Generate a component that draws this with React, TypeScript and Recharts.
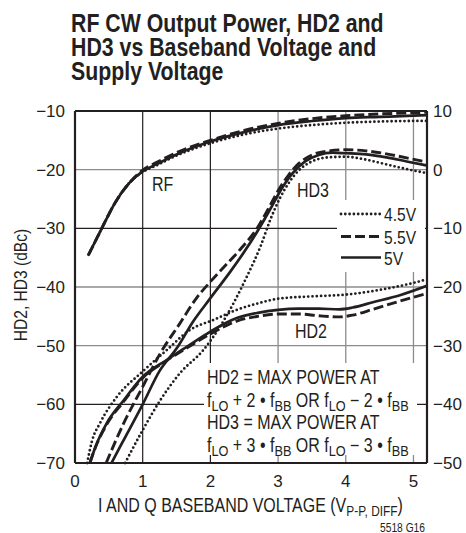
import React from "react";
import { LineChart, Line, XAxis, YAxis, ReferenceLine } from "recharts";

const INK = "#231f20";
const GRID_LIGHT = "#8c8c8c";
const SANS = '"Liberation Sans", Arial, sans-serif';
const NARROW_X = 0.82; // Arial squeezed to a condensed face

// RF output power (dBm, right axis) vs baseband voltage
const rfVolts = [0.2, 0.3, 0.4, 0.5, 0.6, 0.8, 1.0, 1.2, 1.5, 2, 2.5, 3, 3.5, 4, 4.5, 5, 5.2];
const rf5V = [-14.5, -12.2, -9.9, -7.6, -5.5, -2.3, -0.3, 0.9, 2.6, 4.8, 6.4, 7.6, 8.3, 8.8, 9.0, 9.2, 9.3];
const rf55V = [-14.5, -12.2, -9.9, -7.6, -5.5, -2.3, -0.1, 1.2, 2.9, 5.0, 6.7, 7.9, 8.7, 9.2, 9.5, 9.7, 9.8];
const rf45V = [-14.5, -12.2, -9.9, -7.6, -5.5, -2.3, -0.4, 0.7, 2.4, 4.5, 6.0, 7.0, 7.6, 8.0, 8.2, 8.3, 8.3];

// HD3 (dBc, left axis)
const hd3Volts5V = [0.54, 0.7, 1.0, 1.25, 1.5, 1.75, 2.0, 2.3, 2.5, 2.7, 2.9, 3.05, 3.2, 3.4, 3.6, 3.8, 4.0, 4.3, 4.6, 4.9, 5.2];
const hd3_5V = [-70, -66.5, -60, -54.3, -50.5, -45.8, -41.9, -37.3, -34.0, -30.4, -26.4, -23.3, -20.8, -18.6, -17.5, -17.1, -17.2, -17.4, -17.9, -18.6, -19.3];
const hd3Volts55V = [0.46, 0.72, 1.0, 1.26, 1.55, 1.8, 2.0, 2.2, 2.44, 2.69, 2.84, 3.0, 3.15, 3.3, 3.5, 3.75, 4.0, 4.3, 4.6, 4.9, 5.2];
const hd3_55V = [-70, -63.2, -57, -51.3, -46.2, -41.8, -39.1, -36.6, -33.6, -30.0, -27.0, -23.6, -21.0, -19.0, -17.5, -16.8, -16.6, -16.8, -17.3, -18.0, -18.7];
const hd3Volts45V = [0.74, 1.0, 1.26, 1.55, 1.9, 2.14, 2.34, 2.54, 2.74, 2.89, 3.03, 3.18, 3.3, 3.5, 3.75, 4.0, 4.3, 4.6, 4.9, 5.2];
const hd3_45V = [-70, -64.4, -59.3, -54.7, -50.7, -46.8, -42.8, -38.2, -33.1, -28.4, -24.8, -21.9, -20.2, -18.6, -17.9, -17.8, -18.3, -19.1, -19.9, -20.6];

// HD2 (dBc, left axis)
const hd2Volts = [0.22, 0.3, 0.47, 0.72, 1.0, 1.36, 1.65, 2.0, 2.39, 2.7, 3.0, 3.3, 3.6, 3.9, 4.1, 4.4, 4.8, 5.2];
const hd2_5V = [-70, -67.3, -63.2, -59.3, -55.3, -52.4, -50.2, -47.6, -45.3, -44.4, -43.9, -43.7, -43.7, -43.8, -43.5, -42.6, -41.4, -39.8];
const hd2_55V = [-70, -67.4, -63.4, -59.5, -55.5, -52.5, -50.4, -48.0, -45.8, -45.0, -44.6, -44.6, -44.9, -45.1, -44.8, -43.8, -42.4, -41.1];
const hd2Volts45V = [0.18, 0.25, 0.37, 0.62, 1.0, 1.36, 1.7, 2.05, 2.39, 2.7, 3.0, 3.5, 4.0, 4.5, 5.0, 5.2];
const hd2_45V = [-70, -66.3, -63.2, -58.7, -54.4, -50.7, -47.3, -45.6, -43.9, -42.8, -42.0, -41.6, -41.3, -40.5, -39.3, -38.7];

const xTicks = [0, 1, 2, 3, 4, 5];
const leftTicks = [-70, -60, -50, -40, -30, -20, -10];
const rightTicks = [-50, -40, -30, -20, -10, 0, 10];
const darkGridX = [1, 2];
const lightGridX = [3, 4, 5];
const darkGridY = [-30, -60];
const lightGridY = [-20, -40, -50];

const titleLines = ["RF CW Output Power, HD2 and", "HD3 vs Baseband Voltage and", "Supply Voltage"];
const legendLabels = ["4.5V", "5.5V", "5V"];
// [text, isSubscript]
const noteLines: [string, boolean][][] = [
  [["HD2 = MAX POWER AT", false]],
  [["f", false], ["LO", true], [" + 2 \u2022 f", false], ["BB", true], [" OR f", false], ["LO", true], [" \u2212 2 \u2022 f", false], ["BB", true]],
  [["HD3 = MAX POWER AT", false]],
  [["f", false], ["LO", true], [" + 3 \u2022 f", false], ["BB", true], [" OR f", false], ["LO", true], [" \u2212 3 \u2022 f", false], ["BB", true]],
];
const xTitle: [string, boolean][] = [["I AND Q BASEBAND VOLTAGE (V", false], ["P-P, DIFF", true], [")", false]];

const zip = (xs: number[], ys: number[]) => xs.map((v, i) => ({ v, y: ys[i] }));
const fmt = (n: number) => (n < 0 ? `\u2212${-n}` : `${n}`);

const solid = { stroke: INK, strokeWidth: 2.7 };
const dashed = { stroke: INK, strokeWidth: 2.9, strokeDasharray: "10 4" };
const dotted = { stroke: INK, strokeWidth: 2.8, strokeDasharray: "0 4.3", strokeLinecap: "round" as const };

const tickStyle = { fill: INK, fontSize: 17, fontFamily: SANS };

// condensed text: Arial scaled horizontally
function T({
  x,
  y,
  size,
  rotate = 0,
  anchor = "start",
  bold = false,
  children,
}: {
  x: number;
  y: number;
  size: number;
  rotate?: number;
  anchor?: "start" | "middle" | "end";
  bold?: boolean;
  children: React.ReactNode;
}) {
  return (
    <text
      transform={`translate(${x},${y}) rotate(${rotate}) scale(${NARROW_X},1)`}
      fontSize={size}
      textAnchor={anchor}
      fontWeight={bold ? "bold" : "normal"}
    >
      {children}
    </text>
  );
}

function runs(parts: [string, boolean][], subSize: number, shift: number) {
  let prevSub = false;
  return parts.map(([s, sub], i) => {
    const dy = sub && !prevSub ? shift : !sub && prevSub ? -shift : 0;
    prevSub = sub;
    return (
      <tspan key={i} dy={dy} fontSize={sub ? subSize : undefined}>
        {s}
      </tspan>
    );
  });
}

export default function App() {
  const lines = [
    { data: zip(rfVolts, rf45V), axis: "right", style: dotted },
    { data: zip(rfVolts, rf55V), axis: "right", style: dashed },
    { data: zip(rfVolts, rf5V), axis: "right", style: solid },
    { data: zip(hd3Volts45V, hd3_45V), axis: "left", style: dotted },
    { data: zip(hd3Volts55V, hd3_55V), axis: "left", style: dashed },
    { data: zip(hd3Volts5V, hd3_5V), axis: "left", style: solid },
    { data: zip(hd2Volts45V, hd2_45V), axis: "left", style: dotted },
    { data: zip(hd2Volts, hd2_55V), axis: "left", style: dashed },
    { data: zip(hd2Volts, hd2_5V), axis: "left", style: solid },
  ];
  const legendStyles = [dotted, dashed, solid];
  const legendY = [214, 236.5, 257.5];

  return (
    <div style={{ position: "absolute", left: 0, top: 0, width: 466, height: 533, background: "#fff" }}>
      <LineChart width={466} height={533} margin={{ top: 111, right: 0, bottom: 40, left: 0 }}>
        <XAxis
          dataKey="v"
          type="number"
          domain={[0, 5.2]}
          ticks={xTicks}
          interval={0}
          allowDataOverflow
          height={30}
          tickLine={false}
          axisLine={false}
          tickSize={0}
          tickMargin={12}
          tick={tickStyle}
        />
        <YAxis
          yAxisId="left"
          domain={[-70, -10]}
          ticks={leftTicks}
          interval={0}
          width={75}
          tickLine={false}
          axisLine={false}
          tickSize={0}
          tickMargin={10}
          tick={tickStyle}
          tickFormatter={fmt}
        />
        <YAxis
          yAxisId="right"
          orientation="right"
          domain={[-50, 10]}
          ticks={rightTicks}
          interval={0}
          width={39}
          tickLine={false}
          axisLine={false}
          tickSize={0}
          tickMargin={6}
          tick={tickStyle}
          tickFormatter={fmt}
        />

        {lightGridX.map((x) => (
          <ReferenceLine key={"lx" + x} yAxisId="left" x={x} stroke={GRID_LIGHT} strokeWidth={1.3} />
        ))}
        {lightGridY.map((y) => (
          <ReferenceLine key={"ly" + y} yAxisId="left" y={y} stroke={GRID_LIGHT} strokeWidth={1.3} />
        ))}
        {darkGridX.map((x) => (
          <ReferenceLine key={"dx" + x} yAxisId="left" x={x} stroke={INK} strokeWidth={1.2} />
        ))}
        {darkGridY.map((y) => (
          <ReferenceLine key={"dy" + y} yAxisId="left" y={y} stroke={INK} strokeWidth={1.2} />
        ))}

        {lines.map((l, i) => (
          <Line
            key={i}
            yAxisId={l.axis}
            data={l.data}
            dataKey="y"
            type="monotone"
            dot={false}
            activeDot={false}
            isAnimationActive={false}
            {...l.style}
          />
        ))}

        {/* plot frame */}
        <ReferenceLine yAxisId="left" x={0} stroke={INK} strokeWidth={2.2} />
        <ReferenceLine yAxisId="left" x={5.2} stroke={INK} strokeWidth={2.2} />
        <ReferenceLine yAxisId="left" y={-10} stroke={INK} strokeWidth={2.2} />
        <ReferenceLine yAxisId="left" y={-70} stroke={INK} strokeWidth={2.2} />
      </LineChart>

      <svg
        width={466}
        height={533}
        style={{ position: "absolute", left: 0, top: 0, pointerEvents: "none" }}
        fontFamily={SANS}
        fill={INK}
      >
        {titleLines.map((t, i) => (
          <T key={t} x={71} y={32 + i * 24} size={26} bold>
            {t}
          </T>
        ))}

        <T x={152} y={191} size={19.5}>RF</T>
        <T x={297} y={196.5} size={19.5}>HD3</T>
        <T x={295} y={338} size={19.5}>HD2</T>

        {/* legend */}
        <rect x={337} y={200} width={88} height={72} fill="#fff" />
        {legendLabels.map((lab, i) => (
          <g key={lab}>
            <line x1={341} x2={381} y1={legendY[i]} y2={legendY[i]} {...legendStyles[i]} />
            <T x={384} y={legendY[i] + 7.3} size={19}>
              {lab}
            </T>
          </g>
        ))}

        {/* annotation */}
        <rect x={204} y={363} width={213} height={92} fill="#fff" />
        {noteLines.map((parts, i) => (
          <T key={i} x={207} y={384 + i * 22.5} size={19.5}>
            {runs(parts, 15.5, 4)}
          </T>
        ))}

        {/* axis titles */}
        <T x={250.5} y={512.3} size={19.5} anchor="middle">
          {runs(xTitle, 14.5, 4)}
        </T>
        <T x={26.5} y={285} size={19} rotate={-90} anchor="middle">
          HD2, HD3 (dBc)
        </T>
        <T x={425} y={531.5} size={12.5} anchor="end">
          5518 G16
        </T>
      </svg>
    </div>
  );
}
